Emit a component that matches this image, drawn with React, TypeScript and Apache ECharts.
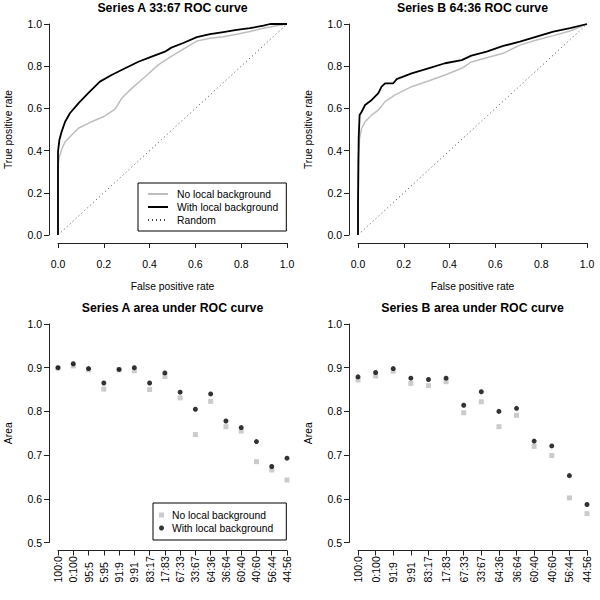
import React, { useEffect, useRef } from "react";
import * as echarts from "echarts";

const FONT = '"Liberation Sans", Arial, Helvetica, sans-serif';

// ROC curves: [false positive rate, true positive rate]
const ROC_A_NO: number[][] = [
  [0, 0], [0, 0.33], [0.006, 0.37], [0.016, 0.405], [0.031, 0.442], [0.06, 0.474], [0.089, 0.506],
  [0.147, 0.537], [0.205, 0.564], [0.249, 0.596], [0.278, 0.648], [0.322, 0.695], [0.38, 0.75],
  [0.438, 0.806], [0.489, 0.843], [0.547, 0.881], [0.606, 0.919], [0.664, 0.932], [0.722, 0.94],
  [0.78, 0.951], [0.838, 0.964], [0.897, 0.98], [0.955, 0.992], [1, 1],
];
const ROC_A_WITH: number[][] = [
  [0, 0], [0, 0.395], [0.006, 0.45], [0.016, 0.49], [0.031, 0.537], [0.052, 0.577], [0.089, 0.624],
  [0.132, 0.672], [0.183, 0.727], [0.234, 0.758], [0.293, 0.79], [0.351, 0.821], [0.409, 0.845],
  [0.467, 0.869], [0.495, 0.888], [0.547, 0.91], [0.606, 0.938], [0.664, 0.952], [0.722, 0.962],
  [0.78, 0.972], [0.838, 0.98], [0.897, 0.992], [0.926, 1.0], [1, 1],
];
const ROC_B_NO: number[][] = [
  [0, 0], [0, 0.347], [0.007, 0.458], [0.016, 0.506], [0.031, 0.537], [0.06, 0.569], [0.089, 0.592],
  [0.118, 0.632], [0.162, 0.664], [0.234, 0.703], [0.307, 0.73], [0.38, 0.758], [0.453, 0.79],
  [0.495, 0.82], [0.562, 0.84], [0.634, 0.861], [0.707, 0.9], [0.78, 0.924], [0.853, 0.945],
  [0.926, 0.967], [1, 1],
];
const ROC_B_WITH: number[][] = [
  [0, 0], [0, 0.14], [0.003, 0.458], [0.007, 0.569], [0.016, 0.584], [0.031, 0.616], [0.06, 0.64],
  [0.089, 0.672], [0.103, 0.703], [0.118, 0.719], [0.154, 0.719], [0.169, 0.739], [0.234, 0.766],
  [0.307, 0.79], [0.38, 0.814], [0.453, 0.829], [0.495, 0.85], [0.562, 0.869], [0.634, 0.896],
  [0.707, 0.916], [0.78, 0.94], [0.853, 0.964], [0.926, 0.98], [1, 1],
];
const RANDOM: number[][] = [[0, 0], [1, 1]];

// Area under ROC curve
const CATS_A = ["100:0", "0:100", "95:5", "5:95", "91:9", "9:91", "83:17", "17:83", "67:33", "33:67", "64:36", "36:64", "60:40", "40:60", "56:44", "44:56"];
const AUC_A_NO = [0.899, 0.904, 0.895, 0.851, 0.895, 0.893, 0.85, 0.88, 0.831, 0.747, 0.823, 0.765, 0.755, 0.685, 0.666, 0.643];
const AUC_A_WITH = [0.9, 0.909, 0.898, 0.865, 0.896, 0.9, 0.865, 0.888, 0.844, 0.805, 0.84, 0.778, 0.763, 0.731, 0.674, 0.693];
const CATS_B = ["100:0", "0:100", "91:9", "9:91", "83:17", "17:83", "67:33", "33:67", "64:36", "36:64", "60:40", "40:60", "56:44", "44:56"];
const AUC_B_NO = [0.872, 0.881, 0.892, 0.864, 0.859, 0.868, 0.797, 0.822, 0.765, 0.791, 0.72, 0.699, 0.602, 0.566];
const AUC_B_WITH = [0.879, 0.889, 0.898, 0.876, 0.873, 0.876, 0.814, 0.845, 0.8, 0.807, 0.732, 0.721, 0.653, 0.587];

const TITLES = ["Series A 33:67 ROC curve", "Series B 64:36 ROC curve", "Series A area under ROC curve", "Series B area under ROC curve"];
const LEG_NO = "No local background";
const LEG_WITH = "With local background";
const LEG_RANDOM = "Random";

const GREY = "#bebebe";
const AXIS_COLOR = "#222";
const TICK_FS = 10.5;
const NAME_FS = 10.3;

export default function App() {
  const ref = useRef<HTMLDivElement>(null);
  useEffect(() => {
    document.body.style.margin = "0";
    const chart = echarts.init(ref.current!, undefined, { renderer: "svg" });

    const axisCommon = {
      axisLine: { show: true, onZero: false, lineStyle: { color: AXIS_COLOR, width: 1 } },
      axisTick: { show: true, length: 5, lineStyle: { color: AXIS_COLOR, width: 1 } },
      splitLine: { show: false },
      nameTextStyle: { fontSize: NAME_FS, fontFamily: FONT, color: "#000" },
    };
    const fmt1 = (v: number) => v.toFixed(1);

    const rocX = (gi: number) => ({
      ...axisCommon,
      gridIndex: gi, type: "value", min: 0, max: 1, interval: 0.2, offset: 8,
      axisLabel: { formatter: fmt1, fontSize: TICK_FS, fontFamily: FONT, color: "#000", margin: 15 },
      name: "False positive rate", nameLocation: "middle", nameGap: 38,
    });
    const rocY = (gi: number) => ({
      ...axisCommon,
      gridIndex: gi, type: "value", min: 0, max: 1, interval: 0.2, offset: 9,
      axisLabel: { formatter: fmt1, fontSize: TICK_FS, fontFamily: FONT, color: "#000", margin: 7 },
      name: "True positive rate", nameLocation: "middle", nameGap: 36,
    });
    const aucX = (gi: number, cats: string[]) => ({
      ...axisCommon,
      gridIndex: gi, type: "category", data: cats, boundaryGap: false, offset: 8,
      axisTick: { ...axisCommon.axisTick, alignWithLabel: true, interval: 0 },
      axisLabel: { interval: 0, rotate: 90, align: "left", verticalAlign: "middle", margin: 32, fontSize: TICK_FS, fontFamily: FONT, color: "#000" },
    });
    const aucY = (gi: number) => ({
      ...axisCommon,
      gridIndex: gi, type: "value", min: 0.5, max: 1, interval: 0.1, offset: 9,
      axisLabel: { formatter: fmt1, fontSize: TICK_FS, fontFamily: FONT, color: "#000", margin: 7 },
      name: "Area", nameLocation: "middle", nameGap: 36,
    });

    const line = (name: string, data: number[][], gi: number, color: string, width: number, type: any = "solid") => ({
      name, type: "line", data, xAxisIndex: gi, yAxisIndex: gi, symbol: "none", clip: false,
      lineStyle: { color, width, type }, itemStyle: { color }, z: 2,
    });
    const pts = (name: string, data: number[], gi: number, color: string, symbol: string, size: number, z: number) => ({
      name, type: "scatter", data, xAxisIndex: gi, yAxisIndex: gi, symbol, symbolSize: size,
      itemStyle: { color }, z, clip: false,
    });

    const titleAt = (text: string, cx: number, top: number) => ({
      text, left: cx, top, textAlign: "center", padding: 0,
      textStyle: { fontSize: 12.3, fontWeight: "bold", fontFamily: FONT, color: "#000" },
    });

    const option: any = {
      animation: false,
      backgroundColor: "#fff",
      title: [
        titleAt(TITLES[0], 172.5, 2),
        titleAt(TITLES[1], 472.5, 2),
        titleAt(TITLES[2], 172.5, 302),
        titleAt(TITLES[3], 472.5, 302),
      ],
      grid: [
        { left: 58, top: 24, width: 229, height: 211 },
        { left: 358, top: 24, width: 229, height: 211 },
        { left: 58, top: 324, width: 229, height: 218.5 },
        { left: 358, top: 324, width: 229, height: 218.5 },
      ],
      xAxis: [rocX(0), rocX(1), aucX(2, CATS_A), aucX(3, CATS_B)],
      yAxis: [rocY(0), rocY(1), aucY(2), aucY(3)],
      legend: [
        {
          data: [LEG_NO, LEG_WITH, LEG_RANDOM],
          orient: "vertical", left: 138, top: 183,
          borderColor: "#000", borderWidth: 1, borderRadius: 0,
          padding: [5, 8, 5, 9], itemWidth: 20, itemHeight: 10, itemGap: 1,
          selectedMode: false,
          itemStyle: { opacity: 0 },
          textStyle: { fontSize: NAME_FS, fontFamily: FONT, color: "#000", lineHeight: 12, padding: [0, 0, 0, 4] },
        },
        {
          data: ["ptsNoA", "ptsWithA"],
          formatter: (n: string) => (n === "ptsNoA" ? LEG_NO : LEG_WITH),
          orient: "vertical", left: 153, top: 503,
          borderColor: "#000", borderWidth: 1, borderRadius: 0,
          padding: [6, 13, 6, 6], itemWidth: 5, itemHeight: 5, itemGap: 1,
          selectedMode: false,
          textStyle: { fontSize: NAME_FS, fontFamily: FONT, color: "#000", lineHeight: 12, padding: [0, 0, 0, 3] },
        },
      ],
      series: [
        line(LEG_NO, ROC_A_NO, 0, GREY, 1.5),
        line(LEG_WITH, ROC_A_WITH, 0, "#000", 1.8),
        line(LEG_RANDOM, RANDOM, 0, "#444", 1, [1, 3]),
        line(LEG_NO, ROC_B_NO, 1, GREY, 1.5),
        line(LEG_WITH, ROC_B_WITH, 1, "#000", 1.8),
        line(LEG_RANDOM, RANDOM, 1, "#444", 1, [1, 3]),
        pts("ptsNoA", AUC_A_NO, 2, GREY, "rect", 5, 3),
        pts("ptsWithA", AUC_A_WITH, 2, "#000", "circle", 5, 4),
        pts("ptsNoB", AUC_B_NO, 3, GREY, "rect", 5, 3),
        pts("ptsWithB", AUC_B_WITH, 3, "#000", "circle", 5, 4),
      ],
    };
    chart.setOption(option);
    return () => chart.dispose();
  }, []);
  return <div ref={ref} style={{ width: 600, height: 600 }} />;
}
